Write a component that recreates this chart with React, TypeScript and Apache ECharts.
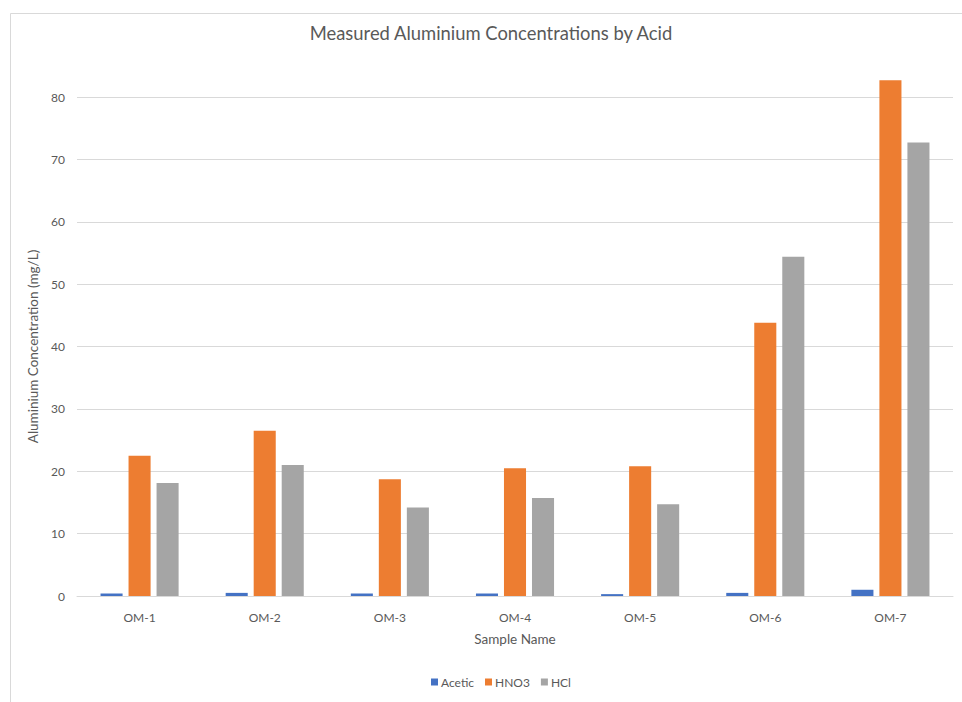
import React, { useEffect, useRef } from "react";
import * as echarts from "echarts";

const categories = ["OM-1", "OM-2", "OM-3", "OM-4", "OM-5", "OM-6", "OM-7"];
const acetic = [0.4, 0.5, 0.4, 0.4, 0.3, 0.5, 1.0];
const hno3 = [22.5, 26.5, 18.7, 20.5, 20.8, 43.8, 82.7];
const hcl = [18.1, 21.0, 14.2, 15.7, 14.7, 54.4, 72.7];
const seriesNames = ["Acetic", "HNO3", "HCl"];
const colors = ["#4472C4", "#ED7D31", "#A5A5A5"];

const FONT = "Lato, 'Noto Sans', sans-serif";

export default function App() {
  const ref = useRef<HTMLDivElement>(null);
  useEffect(() => {
    document.body.style.margin = "0";
    const chart = echarts.init(ref.current!, null, { renderer: "svg" });
    const values = [acetic, hno3, hcl];
    chart.setOption({
      animation: false,
      backgroundColor: "#ffffff",
      textStyle: { fontFamily: FONT },
      title: {
        text: "Measured Aluminium Concentrations by Acid",
        left: 486,
        textAlign: "center",
        top: 19,
        textStyle: { fontFamily: FONT, fontSize: 18.4, fontWeight: "normal", color: "#595959" },
      },
      graphic: [
        {
          type: "rect",
          shape: { x: 10.5, y: 13.5, width: 980, height: 720 },
          style: { fill: "none", stroke: "#D9D9D9", lineWidth: 1 },
          silent: true,
          z: -1,
        },
      ],
      legend: {
        data: seriesNames,
        left: 426,
        top: 671,
        itemWidth: 7,
        itemHeight: 7,
        itemGap: 11,
        icon: "rect",
        textStyle: { fontFamily: FONT, fontSize: 12, color: "#595959", padding: [0, 0, 0, -2] },
      },
      grid: { left: 77, right: 9, top: 97, bottom: 106, containLabel: false },
      xAxis: {
        type: "category",
        data: categories,
        name: "Sample Name",
        nameLocation: "middle",
        nameGap: 36,
        nameTextStyle: { fontFamily: FONT, fontSize: 13.5, color: "#595959" },
        axisLine: { lineStyle: { color: "#D9D9D9", width: 1 } },
        axisTick: { show: false },
        axisLabel: { fontFamily: FONT, fontSize: 12, color: "#595959", margin: 15 },
      },
      yAxis: {
        type: "value",
        min: 0,
        max: 80,
        interval: 10,
        name: "Aluminium Concentration (mg/L)",
        nameLocation: "middle",
        nameGap: 29,
        nameTextStyle: { fontFamily: FONT, fontSize: 13.5, color: "#595959" },
        axisLine: { show: false },
        axisTick: { show: false },
        axisLabel: { fontFamily: FONT, fontSize: 12, color: "#595959", margin: 12 },
        splitLine: { lineStyle: { color: "#D9D9D9", width: 1 } },
      },
      series: seriesNames.map((name, i) => ({
        name,
        type: "bar",
        data: values[i],
        clip: false,
        barGap: "27%",
        barCategoryGap: "37.6%",
        itemStyle: { color: colors[i] },
      })),
    });
    return () => chart.dispose();
  }, []);
  return <div ref={ref} style={{ width: 962, height: 702 }} />;
}
